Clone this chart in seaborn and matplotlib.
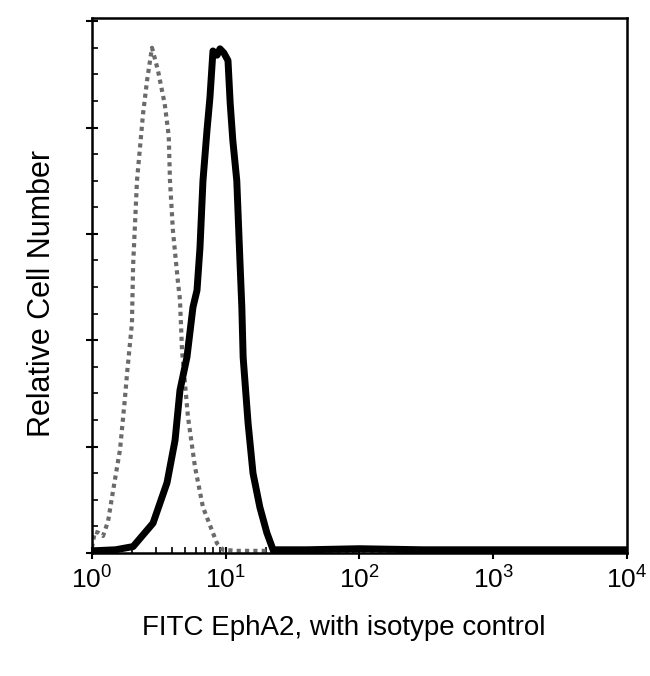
import numpy as np
import pandas as pd
import matplotlib
matplotlib.use("Agg")
import matplotlib.pyplot as plt
import seaborn as sns
from matplotlib.ticker import LogLocator, MultipleLocator, NullFormatter

sns.set_style("ticks", {'text.color': 'black', 'axes.labelcolor': 'black',
                        'xtick.color': 'black', 'ytick.color': 'black'})
plt.rcParams['font.family'] = ['Liberation Sans', 'DejaVu Sans']

# isotype control (gray dotted)
iso_x = [1.0, 1.05, 1.12, 1.21, 1.32, 1.44, 1.62, 1.76, 1.83, 1.99, 2.03, 2.17,
         2.41, 2.58, 2.81, 3.11, 3.50, 3.75, 3.83, 4.03, 4.40, 4.55, 4.71, 5.22,
         5.89, 6.76, 8.61, 9.53, 12.0, 30.0, 100.0, 1000.0, 10000.0]
iso_y = [0.05, 0.20, 0.19, 0.16, 0.30, 0.59, 0.97, 1.44, 1.69, 2.16, 2.70, 3.50,
         4.13, 4.44, 4.75, 4.54, 4.22, 3.92, 3.50, 3.03, 2.54, 2.38, 1.91, 1.28,
         0.81, 0.43, 0.09, 0.03, 0.02, 0.02, 0.02, 0.02, 0.02]

# EphA2 stained (black)
eph_x = [1.0, 1.5, 2.03, 2.86, 3.64, 4.18, 4.55, 5.13, 5.69, 6.10, 6.42, 6.76,
         7.24, 7.62, 8.03, 8.61, 9.06, 9.70, 10.4, 10.8, 11.3, 12.1, 12.8, 13.2,
         13.5, 14.7, 16.0, 18.0, 20.3, 22.6, 40.0, 100.0, 300.0, 1000.0, 3000.0, 10000.0]
eph_y = [0.02, 0.03, 0.06, 0.28, 0.66, 1.06, 1.53, 1.84, 2.31, 2.47, 2.87, 3.50,
         3.97, 4.28, 4.72, 4.68, 4.74, 4.70, 4.63, 4.23, 3.88, 3.50, 2.72, 2.31,
         1.84, 1.22, 0.75, 0.43, 0.19, 0.03, 0.03, 0.04, 0.03, 0.03, 0.03, 0.03]

iso = pd.DataFrame({'x': iso_x, 'y': iso_y})
eph = pd.DataFrame({'x': eph_x, 'y': eph_y})

fig = plt.figure(figsize=(6.5, 6.76), dpi=100)
ax = fig.add_axes([0.1415, 0.182, 0.823, 0.7914])

sns.lineplot(data=iso, x='x', y='y', ax=ax, color='#6a6a6a', linewidth=3,
             linestyle=(0, (1, 1)), estimator=None, sort=False)
sns.lineplot(data=eph, x='x', y='y', ax=ax, color='black', linewidth=5,
             estimator=None, sort=False)

ax.set_xscale('log')
ax.set_xlim(1, 1e4)
ax.set_ylim(0, 5.03)
ax.xaxis.set_major_locator(LogLocator(base=10, numticks=10))
ax.xaxis.set_minor_locator(LogLocator(base=10, subs=np.arange(2, 10), numticks=20))
ax.xaxis.set_minor_formatter(NullFormatter())
ax.yaxis.set_major_locator(MultipleLocator(1))
ax.yaxis.set_minor_locator(MultipleLocator(0.25))
ax.set_yticklabels([])

ax.tick_params(axis='both', which='major', direction='inout', length=8, width=1.5)
ax.tick_params(axis='both', which='minor', direction='in', length=4, width=1.2)
ax.tick_params(axis='x', labelsize=19, pad=6)
for s in ax.spines.values():
    s.set_linewidth(1.8)
    s.set_color('black')

ax.set_xlabel('FITC EphA2, with isotype control', fontsize=20)
ax.set_ylabel('Relative Cell Number', fontsize=22)
ax.xaxis.set_label_coords(0.471, -0.116)
ax.yaxis.set_label_coords(-0.066, 0.486)

fig.savefig('out.png', dpi=100)
